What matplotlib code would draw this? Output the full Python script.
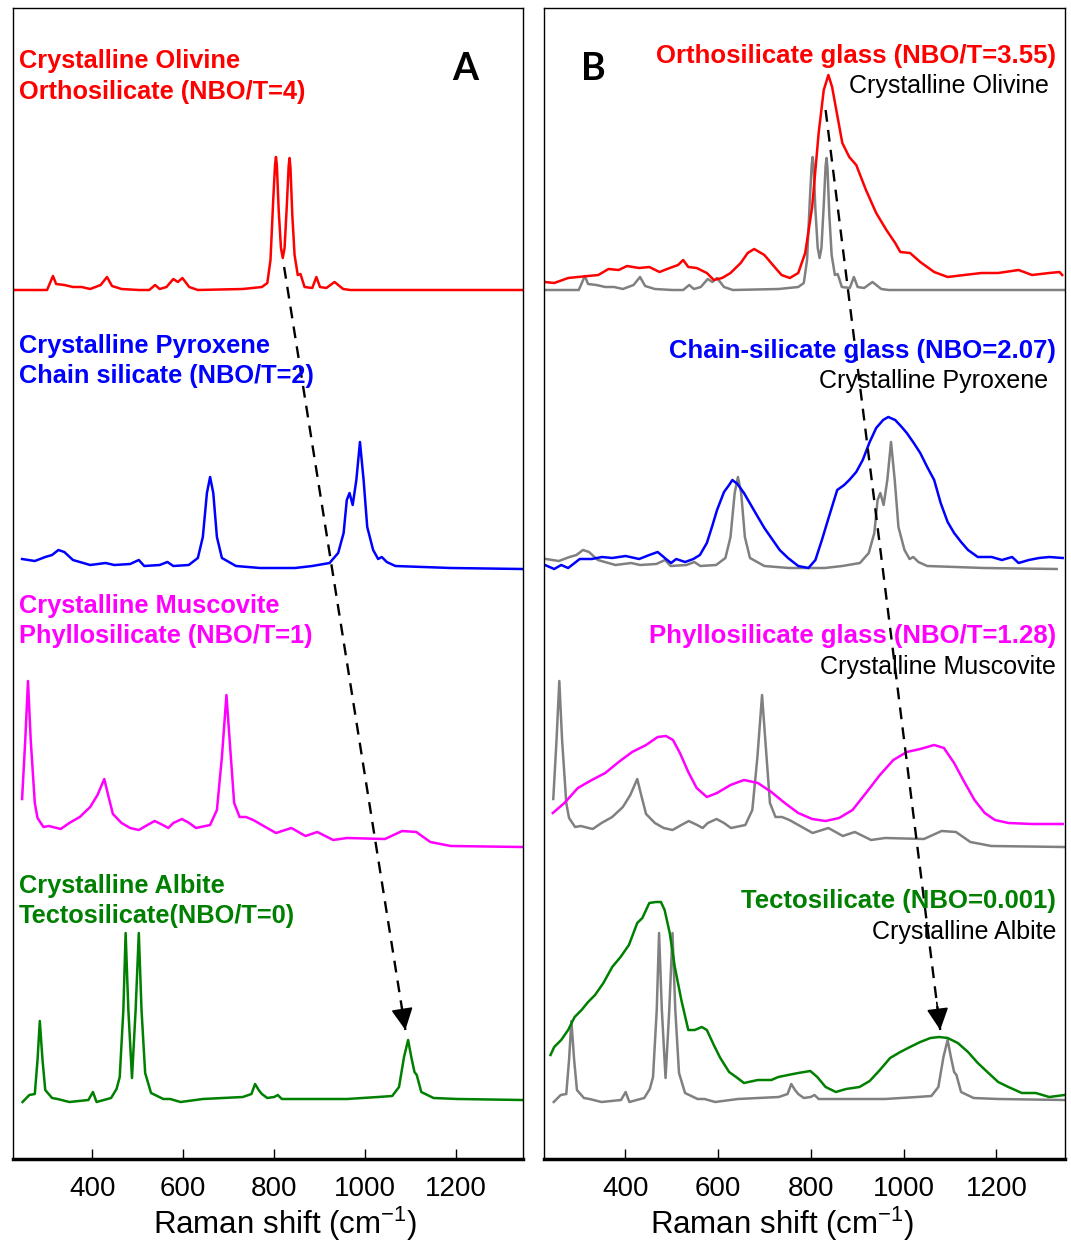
import matplotlib
matplotlib.use("Agg")
import matplotlib.pyplot as plt

plt.rcParams['font.family'] = ['Liberation Sans', 'DejaVu Sans']
plt.rcParams['mathtext.default'] = 'regular'

# crystalline spectra: Raman shift (cm-1) and intensity above own baseline (a.u.)
olivine_wn = [225, 300, 313, 320, 338, 357, 376, 395, 418, 432, 443, 464, 502, 525, 538, 548, 563, 578,
              588, 598, 613, 632, 731, 773, 785, 792, 798, 802, 804, 806, 810, 815, 819, 823, 828, 832,
              834, 836, 840, 845, 852, 858, 867, 884, 893, 901, 915, 933, 952, 968, 1350]
olivine_int = [0, 0, 0.14, 0.06, 0.05, 0.03, 0.03, 0.01, 0.05, 0.13, 0.04, 0.01, 0, 0, 0.05, 0.01, 0.03, 0.11,
               0.08, 0.12, 0.03, 0, 0.01, 0.03, 0.07, 0.30, 0.90, 1.25, 1.33, 1.25, 0.80, 0.42, 0.32, 0.42, 0.85, 1.24,
               1.32, 1.22, 0.75, 0.35, 0.15, 0.16, 0.03, 0.02, 0.13, 0.03, 0.02, 0.08, 0.01, 0, 0]

pyroxene_wn = [245, 273, 296, 311, 325, 338, 357, 395, 429, 448, 483, 502, 514, 548, 565, 578, 612, 632,
               643, 652, 659, 666, 674, 685, 716, 769, 846, 884, 922, 941, 953, 960, 966, 973, 981, 989,
               997, 1005, 1018, 1029, 1037, 1048, 1067, 1189, 1346]
pyroxene_int = [0.09, 0.07, 0.11, 0.13, 0.18, 0.16, 0.08, 0.03, 0.05, 0.03, 0.04, 0.08, 0.02, 0.03, 0.06, 0.02, 0.03, 0.10,
                0.31, 0.75, 0.91, 0.75, 0.31, 0.10, 0.02, 0.0, 0, 0.02, 0.05, 0.15, 0.35, 0.68, 0.75, 0.63, 0.88, 1.26,
                0.88, 0.41, 0.18, 0.09, 0.11, 0.06, 0.02, 0, -0.01]
# pyroxene reference in panel B sits ~16 cm-1 lower than in panel A
pyroxene_shift_b = -16

muscovite_wn = [245, 252, 258, 264, 273, 279, 292, 304, 330, 349, 372, 395, 411, 426, 435, 445, 464, 483,
                502, 521, 537, 555, 567, 578, 597, 613, 628, 659, 674, 685, 695, 702, 712, 724, 738, 754,
                777, 804, 838, 869, 895, 930, 960, 1044, 1082, 1113, 1144, 1189, 1346]
muscovite_int = [0.48, 1.07, 1.66, 1.07, 0.44, 0.29, 0.20, 0.21, 0.18, 0.24, 0.30, 0.40, 0.52, 0.68, 0.51, 0.33, 0.24, 0.19,
                 0.17, 0.22, 0.26, 0.22, 0.19, 0.24, 0.28, 0.24, 0.19, 0.22, 0.37, 0.90, 1.52, 1.07, 0.44, 0.30, 0.30, 0.27,
                 0.21, 0.14, 0.19, 0.11, 0.15, 0.07, 0.09, 0.08, 0.16, 0.15, 0.05, 0.01, 0]

albite_wn = [246, 261, 273, 279, 284, 290, 296, 311, 323, 349, 391, 401, 409, 441, 453, 460, 468, 473,
             479, 487, 495, 502, 508, 516, 529, 556, 571, 594, 643, 731, 750, 758, 766, 773, 785, 800,
             808, 817, 884, 960, 1029, 1060, 1075, 1086, 1095, 1102, 1109, 1114, 1124, 1151, 1204, 1346]
albite_int = [0, 0.07, 0.08, 0.42, 0.81, 0.42, 0.12, 0.04, 0.03, 0, 0.02, 0.10, 0, 0.04, 0.13, 0.25, 0.92, 1.69,
              0.92, 0.24, 0.92, 1.69, 0.92, 0.29, 0.09, 0.03, 0.03, 0, 0.03, 0.05, 0.08, 0.18, 0.12, 0.08, 0.04, 0.05,
              0.07, 0.03, 0.03, 0.03, 0.05, 0.06, 0.15, 0.45, 0.62, 0.45, 0.30, 0.27, 0.10, 0.04, 0.03, 0.02]

# glass spectra
ortho_glass_wn = [227, 247, 277, 298, 320, 342, 364, 386, 404, 430, 452, 474, 496, 514, 525, 536, 554, 576,
                  591, 609, 627, 649, 664, 678, 700, 722, 737, 755, 773, 788, 803, 817, 828, 838, 846, 857,
                  868, 883, 898, 919, 941, 963, 982, 993, 1014, 1036, 1066, 1095, 1131, 1168, 1204, 1248,
                  1277, 1314, 1336, 1342]
ortho_glass_int = [0.08, 0.07, 0.12, 0.13, 0.14, 0.15, 0.21, 0.20, 0.24, 0.22, 0.23, 0.18, 0.22, 0.25, 0.30, 0.23, 0.22, 0.17,
                   0.10, 0.12, 0.17, 0.27, 0.37, 0.41, 0.35, 0.23, 0.15, 0.12, 0.17, 0.37, 0.83, 1.57, 2.00, 2.15, 2.03, 1.75,
                   1.47, 1.33, 1.25, 1.00, 0.77, 0.60, 0.47, 0.38, 0.37, 0.28, 0.18, 0.13, 0.15, 0.17, 0.17, 0.20,
                   0.15, 0.17, 0.18, 0.15]

chain_glass_wn = [227, 247, 262, 277, 291, 302, 328, 350, 372, 401, 430, 452, 470, 488, 499, 510, 529, 547,
                  561, 576, 587, 598, 613, 624, 631, 642, 656, 671, 686, 700, 715, 733, 751, 773, 795, 810,
                  824, 839, 857, 872, 883, 898, 912, 927, 941, 956, 967, 982, 996, 1007, 1022, 1036, 1051,
                  1066, 1080, 1095, 1109, 1124, 1139, 1160, 1190, 1212, 1234, 1248, 1270, 1292, 1314, 1343]
chain_glass_int = [0.03, -0.01, 0.03, 0.0, 0.05, 0.09, 0.09, 0.11, 0.10, 0.12, 0.09, 0.13, 0.16, 0.09, 0.05, 0.09, 0.06, 0.09,
                   0.13, 0.25, 0.41, 0.58, 0.76, 0.83, 0.88, 0.84, 0.75, 0.63, 0.51, 0.40, 0.30, 0.18, 0.10, 0.02, 0.0, 0.08,
                   0.28, 0.51, 0.78, 0.83, 0.88, 0.96, 1.08, 1.26, 1.40, 1.48, 1.51, 1.48, 1.41, 1.35, 1.25, 1.15, 1.01,
                   0.88, 0.65, 0.46, 0.35, 0.26, 0.18, 0.11, 0.11, 0.08, 0.11, 0.05, 0.08, 0.10, 0.11, 0.10]

phyllo_glass_wn = [244, 269, 298, 328, 357, 386, 415, 445, 470, 488, 503, 518, 536, 554, 576, 598, 627, 656,
                   686, 715, 744, 773, 803, 832, 861, 890, 919, 949, 978, 1007, 1036, 1066, 1087, 1109, 1131,
                   1153, 1175, 1197, 1226, 1277, 1343]
phyllo_glass_int = [0.34, 0.44, 0.59, 0.67, 0.74, 0.85, 0.95, 1.02, 1.10, 1.11, 1.07, 0.94, 0.75, 0.59, 0.50, 0.54, 0.62, 0.67,
                    0.64, 0.55, 0.44, 0.34, 0.28, 0.26, 0.29, 0.37, 0.54, 0.72, 0.87, 0.95, 0.98, 1.02, 0.99, 0.84, 0.65,
                    0.47, 0.34, 0.27, 0.24, 0.23, 0.23]

tecto_glass_wn = [239, 247, 262, 277, 291, 306, 320, 335, 353, 372, 390, 408, 426, 437, 452, 466, 477, 485,
                  496, 507, 521, 536, 550, 565, 576, 591, 605, 624, 642, 656, 686, 715, 730, 751, 773, 799,
                  814, 832, 854, 876, 905, 927, 949, 971, 993, 1014, 1036, 1058, 1077, 1095, 1117, 1139, 1160,
                  1183, 1204, 1226, 1255, 1285, 1314, 1347]
tecto_glass_int = [0.47, 0.55, 0.62, 0.72, 0.85, 0.92, 1.00, 1.07, 1.19, 1.35, 1.45, 1.57, 1.79, 1.84, 1.99, 2.00, 2.00, 1.92,
                   1.69, 1.35, 1.02, 0.72, 0.72, 0.75, 0.72, 0.57, 0.44, 0.30, 0.24, 0.19, 0.22, 0.22, 0.25, 0.27, 0.29, 0.31,
                   0.25, 0.15, 0.10, 0.13, 0.15, 0.21, 0.32, 0.44, 0.50, 0.55, 0.60, 0.64, 0.65, 0.64, 0.59, 0.50, 0.39,
                   0.29, 0.20, 0.15, 0.09, 0.09, 0.05, 0.07]

# vertical stacking offsets (a.u.), top to bottom
offsets = [8.69, 5.91, 3.12, 0.57]
colors = ['#ff0000', '#0000ff', '#ff00ff', '#008000']

labels_a = [("Crystalline Olivine", "Orthosilicate (NBO/T=4)"),
            ("Crystalline Pyroxene", "Chain silicate (NBO/T=2)"),
            ("Crystalline Muscovite", "Phyllosilicate (NBO/T=1)"),
            ("Crystalline Albite", "Tectosilicate(NBO/T=0)")]
labels_b = [("Orthosilicate glass (NBO/T=3.55)", "Crystalline Olivine"),
            ("Chain-silicate glass (NBO=2.07)", "Crystalline Pyroxene"),
            ("Phyllosilicate glass (NBO/T=1.28)", "Crystalline Muscovite"),
            ("Tectosilicate (NBO=0.001)", "Crystalline Albite")]

# arrow ends (Raman shift, a.u.)
arrow_a = [(822, 8.92), (1089, 1.29)]
arrow_b = [(832, 10.49), (1079, 1.29)]

xticks = [400, 600, 800, 1000, 1200]
xlim = (225, 1348)
ylim = (0, 11.51)

crystal_wn = [olivine_wn, pyroxene_wn, muscovite_wn, albite_wn]
crystal_int = [olivine_int, pyroxene_int, muscovite_int, albite_int]
shift_b = [0, pyroxene_shift_b, 0, 0]
glass_wn = [ortho_glass_wn, chain_glass_wn, phyllo_glass_wn, tecto_glass_wn]
glass_int = [ortho_glass_int, chain_glass_int, phyllo_glass_int, tecto_glass_int]

fig = plt.figure(figsize=(10.71, 12.43), dpi=100)
ax_a = fig.add_axes([13 / 1071, 84 / 1243, 510 / 1071, 1151 / 1243])
ax_b = fig.add_axes([544 / 1071, 84 / 1243, 521 / 1071, 1151 / 1243])


def shifted(vals, off):
    return [v + off for v in vals]


for i in range(4):
    ax_a.plot(crystal_wn[i], shifted(crystal_int[i], offsets[i]), color=colors[i], lw=1.8)
    ax_b.plot(shifted(crystal_wn[i], shift_b[i]), shifted(crystal_int[i], offsets[i]),
              color='#808080', lw=1.8)
    ax_b.plot(glass_wn[i], shifted(glass_int[i], offsets[i]), color=colors[i], lw=1.8)

line_y = [[0.9479, 0.9209], [0.7005, 0.6739], [0.4741, 0.4480], [0.2314, 0.2048]]
line_y_b = [[0.9525, 0.9264], [0.6957, 0.6696], [0.4480, 0.4214], [0.2178, 0.1911]]
right_b = [[0.9827, 0.9683], [0.9827, 0.9683], [0.9827, 0.9827], [0.9827, 0.9827]]

for i in range(4):
    for j in range(2):
        ax_a.text(0.0118, line_y[i][j], labels_a[i][j], transform=ax_a.transAxes, color=colors[i],
                  fontsize=18.3, fontweight='bold', ha='left', va='baseline')
    ax_b.text(right_b[i][0], line_y_b[i][0], labels_b[i][0], transform=ax_b.transAxes, color=colors[i],
              fontsize=18.5, fontweight='bold', ha='right', va='baseline')
    ax_b.text(right_b[i][1], line_y_b[i][1], labels_b[i][1], transform=ax_b.transAxes, color='black',
              fontsize=18, ha='right', va='baseline')

ax_a.text(0.887, 0.9375, "A", transform=ax_a.transAxes, fontsize=27, fontweight='bold',
          family=['Lato', 'DejaVu Sans'], ha='center', va='baseline')
ax_b.text(0.094, 0.9375, "B", transform=ax_b.transAxes, fontsize=27, fontweight='bold',
          family=['Lato', 'DejaVu Sans'], ha='center', va='baseline')

for ax, arr in [(ax_a, arrow_a), (ax_b, arrow_b)]:
    (x0, y0), (x1, y1) = arr
    ax.plot([x0, x1], [y0, y1], color='black', lw=1.7, ls=(0, (5, 3.5)))
    ax.annotate('', xy=(x1, y1), xytext=(x1 - 0.03 * (x1 - x0), y1 - 0.03 * (y1 - y0)),
                arrowprops=dict(arrowstyle='-|>,head_length=0.9,head_width=0.45', color='black',
                                lw=1.2, shrinkA=0, shrinkB=0, mutation_scale=15))

for ax, lx in [(ax_a, 0.534), (ax_b, 0.457)]:
    ax.set_xlim(*xlim)
    ax.set_ylim(*ylim)
    ax.set_yticks([])
    ax.set_xticks(xticks)
    ax.tick_params(axis='x', direction='in', length=7, width=1, labelsize=20, pad=12)
    for s in ax.spines.values():
        s.set_linewidth(1)
    ax.spines['bottom'].set_linewidth(2.5)
    ax.set_xlabel("Raman shift (cm$^{-1}$)", fontsize=22.5, va='top')
    ax.xaxis.set_label_coords(lx, -0.040)

fig.savefig("out.png", dpi=100)
